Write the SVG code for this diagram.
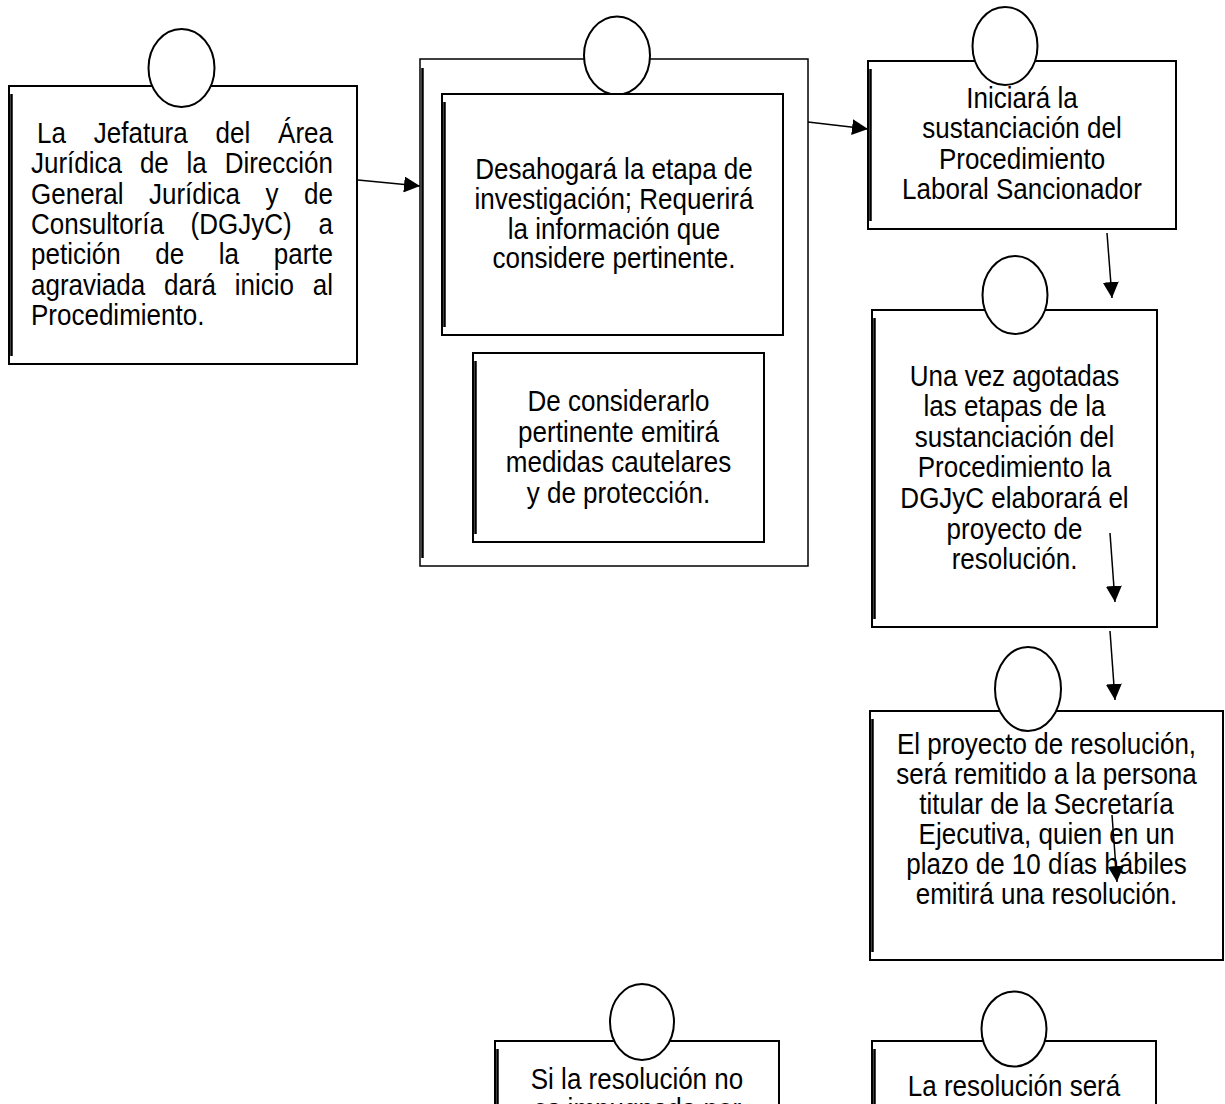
<svg xmlns="http://www.w3.org/2000/svg" width="1225" height="1104" viewBox="0 0 1225 1104">
<style>
.box{fill:#fff;stroke:#000;stroke-width:2}
.thin{fill:none;stroke:#000;stroke-width:1.5}
.edge{stroke:#000;stroke-width:2.5}
.circ{fill:#fff;stroke:#000;stroke-width:2}
.t{font-family:"Liberation Sans",Arial,sans-serif;font-size:26px;fill:#000}
.c{text-anchor:middle}
.con{stroke:#000;stroke-width:1.5;fill:none;marker-end:url(#ah)}
</style>
<defs>
<marker id="ah" markerUnits="userSpaceOnUse" markerWidth="16" markerHeight="16" refX="16" refY="8" orient="auto" viewBox="0 0 16 16">
<path d="M0,0 L16,8 L0,16 z" fill="#000"/>
</marker>
</defs>
<rect width="1225" height="1104" fill="#fff"/>

<g id="n1">
<rect class="box" x="9" y="86" width="348" height="278"/>
<line class="edge" x1="11.5" y1="94" x2="11.5" y2="356"/>
<ellipse class="circ" cx="181.5" cy="68" rx="33" ry="39"/>
<text class="t" transform="matrix(1,0,0,1.1,0,143)"><tspan x="37">La</tspan><tspan x="93.8">Jefatura</tspan><tspan x="215.5">del</tspan><tspan x="333" text-anchor="end">Área</tspan></text>
<text class="t" transform="matrix(1,0,0,1.1,0,173.3)"><tspan x="31">Jurídica</tspan><tspan x="139.9">de</tspan><tspan x="186.6">la</tspan><tspan x="333" text-anchor="end">Dirección</tspan></text>
<text class="t" transform="matrix(1,0,0,1.1,0,203.6)"><tspan x="31">General</tspan><tspan x="149">Jurídica</tspan><tspan x="265.6">y</tspan><tspan x="333" text-anchor="end">de</tspan></text>
<text class="t" transform="matrix(1,0,0,1.1,0,233.9)"><tspan x="31">Consultoría</tspan><tspan x="190.6">(DGJyC)</tspan><tspan x="333" text-anchor="end">a</tspan></text>
<text class="t" transform="matrix(1,0,0,1.1,0,264.2)"><tspan x="31">petición</tspan><tspan x="155.3">de</tspan><tspan x="218.8">la</tspan><tspan x="333" text-anchor="end">parte</tspan></text>
<text class="t" transform="matrix(1,0,0,1.1,0,294.5)"><tspan x="31">agraviada</tspan><tspan x="164">dará</tspan><tspan x="234.8">inicio</tspan><tspan x="333" text-anchor="end">al</tspan></text>
<text class="t" transform="matrix(1,0,0,1.1,0,324.8)" x="31">Procedimiento.</text>
</g>

<g id="n2">
<rect class="thin" x="420" y="59" width="388" height="507"/>
<line class="edge" x1="422.5" y1="68" x2="422.5" y2="558"/>
<ellipse class="circ" cx="617" cy="55.5" rx="33" ry="39"/>
<g id="n2a">
<rect class="box" x="442" y="94" width="341" height="241"/>
<line class="edge" x1="444.5" y1="102" x2="444.5" y2="327"/>
<text class="t c" transform="matrix(1,0,0,1.1,614,179)"><tspan x="0" y="0">Desahogará la etapa de</tspan><tspan x="0" dy="27.09">investigación; Requerirá</tspan><tspan x="0" dy="27.09">la información que</tspan><tspan x="0" dy="27.09">considere pertinente.</tspan></text>
</g>
<g id="n2b">
<rect class="box" x="473" y="353" width="291" height="189"/>
<line class="edge" x1="475.5" y1="361" x2="475.5" y2="534"/>
<text class="t c" transform="matrix(1,0,0,1.1,618.5,411)"><tspan x="0" y="0">De considerarlo</tspan><tspan x="0" dy="27.88">pertinente emitirá</tspan><tspan x="0" dy="27.88">medidas cautelares</tspan><tspan x="0" dy="27.88">y de protección.</tspan></text>
</g>
</g>

<g id="n3">
<rect class="box" x="868" y="61" width="308" height="168"/>
<line class="edge" x1="870.5" y1="69" x2="870.5" y2="221"/>
<ellipse class="circ" cx="1005" cy="46" rx="32.5" ry="39"/>
<text class="t c" transform="matrix(1,0,0,1.1,1022,108)"><tspan x="0" y="0">Iniciará la</tspan><tspan x="0" dy="27.58">sustanciación del</tspan><tspan x="0" dy="27.58">Procedimiento</tspan><tspan x="0" dy="27.58">Laboral Sancionador</tspan></text>
</g>

<g id="n4">
<rect class="box" x="872" y="310" width="285" height="317"/>
<line class="edge" x1="874.5" y1="318" x2="874.5" y2="619"/>
<ellipse class="circ" cx="1015" cy="295" rx="32.5" ry="39"/>
<text class="t c" transform="matrix(1,0,0,1.1,1014.5,386)"><tspan x="0" y="0">Una vez agotadas</tspan><tspan x="0" dy="27.73">las etapas de la</tspan><tspan x="0" dy="27.73">sustanciación del</tspan><tspan x="0" dy="27.73">Procedimiento la</tspan><tspan x="0" dy="27.73">DGJyC elaborará el</tspan><tspan x="0" dy="27.73">proyecto de</tspan><tspan x="0" dy="27.73">resolución.</tspan></text>
</g>

<g id="n5">
<rect class="box" x="870" y="711" width="353" height="249"/>
<line class="edge" x1="872.5" y1="719" x2="872.5" y2="952"/>
<ellipse class="circ" cx="1028" cy="689" rx="33" ry="42"/>
<text class="t c" transform="matrix(1,0,0,1.1,1046.5,754)"><tspan x="0" y="0">El proyecto de resolución,</tspan><tspan x="0" dy="27.27">será remitido a la persona</tspan><tspan x="0" dy="27.27">titular de la Secretaría</tspan><tspan x="0" dy="27.27">Ejecutiva, quien en un</tspan><tspan x="0" dy="27.27">plazo de 10 días hábiles</tspan><tspan x="0" dy="27.27">emitirá una resolución.</tspan></text>
</g>

<g id="n6">
<rect class="box" x="495" y="1041" width="284" height="100"/>
<line class="edge" x1="497.5" y1="1049" x2="497.5" y2="1133"/>
<ellipse class="circ" cx="642" cy="1022" rx="32" ry="38"/>
<text class="t c" transform="matrix(1,0,0,1.1,637,1089)"><tspan x="0" y="0">Si la resolución no</tspan><tspan x="0" dy="27.27">es impugnada por</tspan></text>
</g>

<g id="n7">
<rect class="box" x="872" y="1041" width="284" height="100"/>
<line class="edge" x1="874.5" y1="1049" x2="874.5" y2="1133"/>
<ellipse class="circ" cx="1014" cy="1029" rx="32.5" ry="37.5"/>
<text class="t c" transform="matrix(1,0,0,1.1,1014,1096)" x="0" y="0">La resolución será</text>
</g>

<g id="connectors">
<line class="con" x1="358" y1="180" x2="420" y2="186"/>
<line class="con" x1="808" y1="122" x2="868" y2="129"/>
<line class="con" x1="1107" y1="233" x2="1112" y2="298"/>
<line class="con" x1="1110" y1="533" x2="1115" y2="602"/>
<line class="con" x1="1110" y1="631" x2="1115" y2="700"/>
<line class="con" x1="1112" y1="815" x2="1117" y2="882"/>
</g>
</svg>
